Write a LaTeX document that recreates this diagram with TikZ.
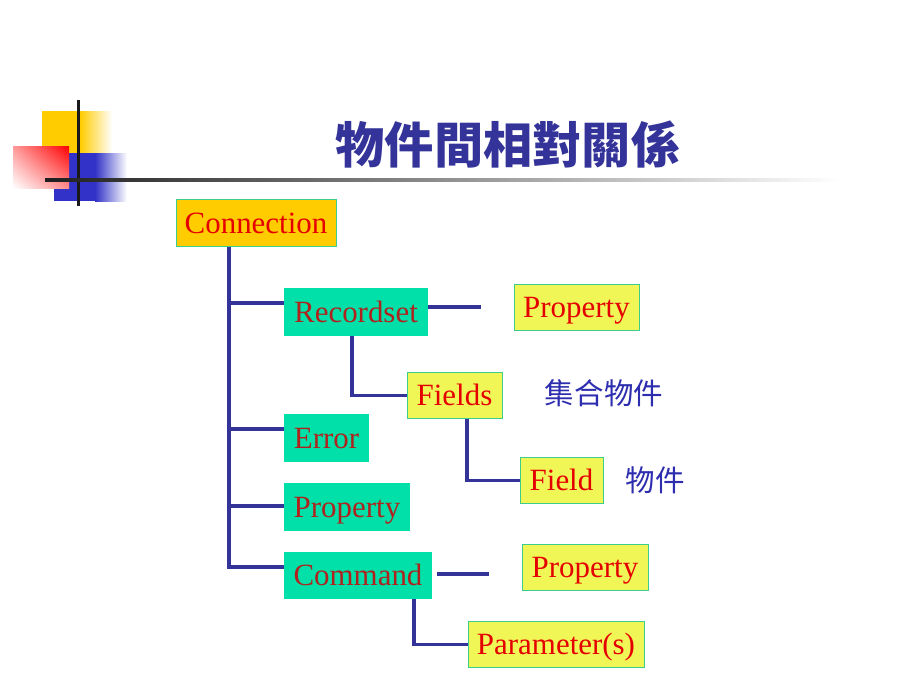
\documentclass[tikz,border=0pt]{standalone}
\usepackage{fontspec}
\setmainfont{Liberation Serif}
\newfontfamily\cjk{Noto Sans CJK TC}
\usepackage{tikz}
\usetikzlibrary{positioning,calc,shadings}
\definecolor{treeblue}{RGB}{51,51,153}
\definecolor{labelblue}{RGB}{45,45,175}
\definecolor{goldfill}{RGB}{255,204,0}
\definecolor{tealfill}{RGB}{0,224,168}
\definecolor{yellowfill}{RGB}{240,246,85}
\definecolor{boxedge}{RGB}{60,205,140}
\definecolor{darkred}{RGB}{175,35,30}
\definecolor{markblue}{RGB}{50,50,200}

\begin{document}
\begin{tikzpicture}[x=0.025cm,y=-0.025cm,
  box/.style={rectangle,inner sep=0pt,minimum height=1.17cm,
    text height=14.5pt,text depth=0pt,
    font=\fontsize{22}{26}\selectfont},
  rootbox/.style={box,fill=goldfill,draw=boxedge,line width=0.6pt,text=red!90!black},
  objbox/.style={box,fill=tealfill,text=darkred},
  leafbox/.style={box,fill=yellowfill,draw=boxedge,line width=0.6pt,text=red!90!black},
  tree/.style={treeblue,line width=2.2pt},
  note/.style={labelblue,font=\cjk\fontsize{21}{25}\selectfont,anchor=west}
]
\useasboundingbox (0,0) rectangle (920,690);

% the corner mark
\fill[goldfill] (42,111) rectangle (80,153);
\shade[left color=goldfill,right color=white] (80,111) rectangle (112,153);
\fill[markblue] (54,153) rectangle (95,201);
\shade[left color=markblue,right color=white] (95,153) rectangle (127,201);
\shade[upper right=red,upper left=red!40,lower right=red!45,lower left=white]
  (13,146) rectangle (69,188);
\fill[black!90] (76.5,100) rectangle (79.5,206);
\shade[left color=black!88,right color=white] (45,178.5) rectangle (840,181.5);

% the title
\node[treeblue,font=\cjk\bfseries\fontsize{35}{40}\selectfont] (title) at (508,145) {物件間相對關係};

% the objects
\node[rootbox,minimum width=4cm] (con) at (256,223) {Connection};
\node[objbox,minimum width=3.575cm,minimum height=1.2cm] (rs) at (356,312) {Recordset};
\node[objbox,minimum width=2.125cm,minimum height=1.2cm] (err) at (326.5,438) {Error};
\node[objbox,minimum width=3.15cm,minimum height=1.2cm] (prp) at (347,507) {Property};
\node[objbox,minimum width=3.7cm] (cmd) at (358,575.5) {Command};

% the collections and properties
\node[leafbox,minimum width=3.125cm] (rsprp) at (576.5,307.5) {Property};
\node[leafbox,minimum width=2.375cm] (fl) at (454.5,395.5) {Fields};
\node[leafbox,minimum width=2.075cm] (fd) at (561.5,480.5) {Field};
\node[leafbox,minimum width=3.15cm] (cmdprp) at (585,567.5) {Property};
\node[leafbox,minimum width=4.4cm] (par) at (556,644.5) {Parameter(s)};

% the notes
\node[note] (coll) at (540,393) {集合物件};
\node[note] (obj) at (621,480) {物件};

% the tree
\coordinate (t1) at (229,303);
\coordinate (t2) at (229,429);
\coordinate (t3) at (229,506);
\coordinate (t4) at (229,567);
\coordinate (r1) at (352,395.5);
\coordinate (f1) at (467,480.5);
\coordinate (c1) at (414,644.5);
\coordinate (rsend) at (481,307);
\coordinate (cmdend) at (489,574);

\draw[tree] (t4 |- con.south) -- (t4) -- (t4 -| cmd.west);
\draw[tree] (t1) -- (t1 -| rs.west);
\draw[tree] (t2) -- (t2 -| err.west);
\draw[tree] (t3) -- (t3 -| prp.west);
\draw[tree] (rsend -| rs.east) -- (rsend);
\draw[tree,shorten <=3pt] (cmdend -| cmd.east) -- (cmdend);
\draw[tree] (r1 |- rs.south) -- (r1) -- (fl.west);
\draw[tree] (f1 |- fl.south) -- (f1) -- (fd.west);
\draw[tree] (c1 |- cmd.south) -- (c1) -- (par.west);
\end{tikzpicture}
\end{document}
